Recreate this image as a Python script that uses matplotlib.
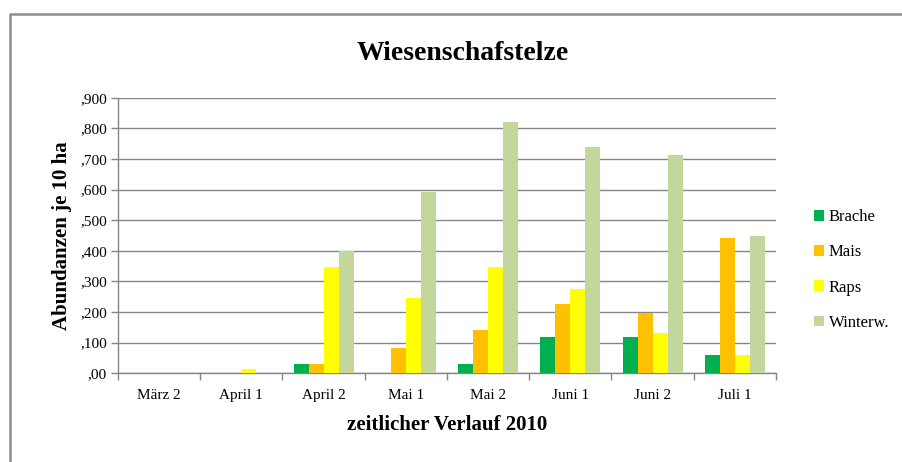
import matplotlib.pyplot as plt
from matplotlib.lines import Line2D
import numpy as np

# Data
categories = ['März 2', 'April 1', 'April 2', 'Mai 1', 'Mai 2', 'Juni 1', 'Juni 2', 'Juli 1']
brache = [0, 0, 0.030, 0, 0.030, 0.119, 0.119, 0.060]
mais = [0, 0, 0.030, 0.084, 0.141, 0.225, 0.197, 0.443]
raps = [0, 0.014, 0.348, 0.247, 0.348, 0.275, 0.132, 0.059]
winterw = [0, 0, 0.400, 0.592, 0.821, 0.739, 0.713, 0.449]
series_names = ['Brache', 'Mais', 'Raps', 'Winterw.']
colors = ['#00b050', '#ffc000', '#ffff00', '#c3d69b']
y_ticks = [0, 0.1, 0.2, 0.3, 0.4, 0.5, 0.6, 0.7, 0.8, 0.9]
y_tick_labels = [',00', ',100', ',200', ',300', ',400', ',500', ',600', ',700', ',800', ',900']

plt.rcParams['font.family'] = ['Liberation Serif', 'DejaVu Serif']

fig = plt.figure(figsize=(9.03, 4.62), dpi=100)
W, H = 903, 462

# chart area border (only top and left edges are inside the picture)
fig.lines.append(Line2D([10 / W, 10 / W, 1], [0, 1 - 14 / H, 1 - 14 / H],
                        transform=fig.transFigure, color='#8c8c8c', linewidth=1.8))

ax = fig.add_axes([118 / W, (H - 373.3) / H, 658 / W, 275.6 / H])

x = np.arange(len(categories))
w = 0.182
all_series = [brache, mais, raps, winterw]
for i, (vals, name, col) in enumerate(zip(all_series, series_names, colors)):
    ax.bar(x + (i - 1.5) * w, vals, width=w, color=col, label=name, zorder=3)

ax.set_xlim(-0.5, len(categories) - 0.5)
ax.set_ylim(0, 0.9)
ax.set_yticks(y_ticks)
ax.set_yticklabels(y_tick_labels, fontsize=11)
ax.set_xticks(x)
ax.set_xticklabels(categories, fontsize=11)
ax.set_xticks(np.arange(len(categories) + 1) - 0.5, minor=True)
ax.tick_params(axis='x', which='major', length=0, pad=11)
ax.tick_params(axis='x', which='minor', length=5, color='#868686', width=1)
ax.tick_params(axis='y', length=5, color='#868686', width=1, pad=3)

ax.grid(axis='y', color='#868686', linewidth=1, zorder=0)
for s in ['top', 'right']:
    ax.spines[s].set_visible(False)
for s in ['left', 'bottom']:
    ax.spines[s].set_color('#868686')
    ax.spines[s].set_linewidth(1)

fig.text(463 / W, 1 - 54 / H, 'Wiesenschafstelze', fontsize=20, fontweight='bold',
         ha='center', va='center')
ax.set_xlabel('zeitlicher Verlauf 2010', fontsize=15, fontweight='bold', labelpad=10)
ax.set_ylabel('Abundanzen je 10 ha', fontsize=15, fontweight='bold', labelpad=6)

ax.legend(loc='center left', bbox_to_anchor=(799 / W, 1 - 270 / H),
          bbox_transform=fig.transFigure, frameon=False, fontsize=12,
          handlelength=0.6, handleheight=0.6, handletextpad=0.3, labelspacing=1.15)

plt.savefig('out.png', dpi=100)
